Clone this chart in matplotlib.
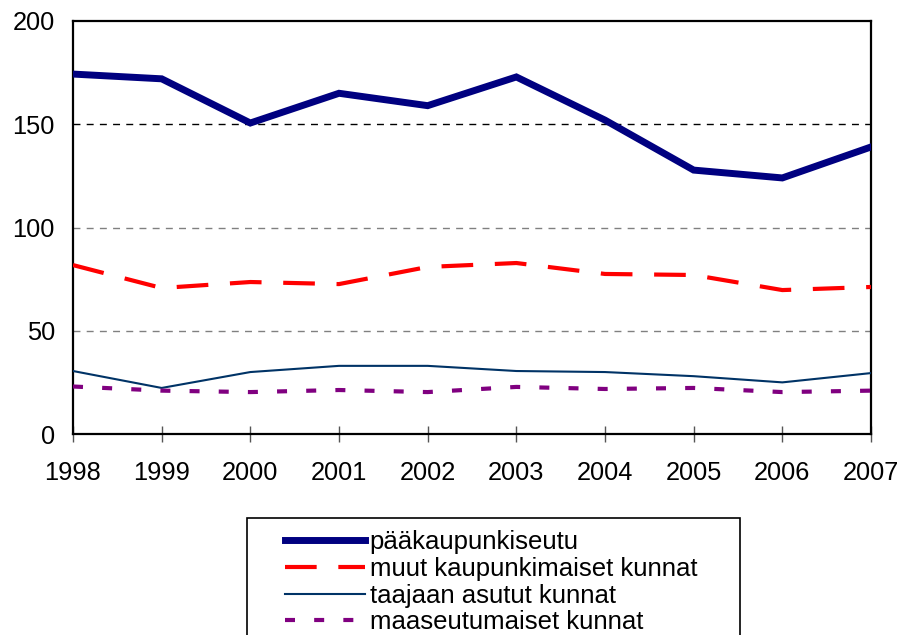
import numpy as np
import matplotlib
matplotlib.use('Agg')
import matplotlib.pyplot as plt
from matplotlib.patches import Rectangle

plt.rcParams['font.family'] = ['Liberation Sans', 'DejaVu Sans']

years = [1998, 1999, 2000, 2001, 2002, 2003, 2004, 2005, 2006, 2007]
paakaupunkiseutu = [174.3, 172.0, 150.6, 165.0, 159.0, 172.9, 152.0, 127.8, 124.0, 139.0]
muut_kaupunkimaiset = [81.8, 70.7, 73.6, 72.6, 80.9, 82.8, 77.5, 77.0, 69.7, 71.2]
taajaan_asutut = [30.5, 22.3, 30.0, 33.0, 33.0, 30.5, 30.0, 28.0, 25.0, 29.5]
maaseutumaiset = [23.0, 21.0, 20.3, 21.3, 20.3, 22.8, 21.8, 22.3, 20.3, 21.0]

labels = ['pääkaupunkiseutu', 'muut kaupunkimaiset kunnat',
          'taajaan asutut kunnat', 'maaseutumaiset kunnat']
y_ticks = [0, 50, 100, 150, 200]

fig = plt.figure(figsize=(9.01, 6.35), dpi=100)
ax = fig.add_axes([73/901, 1 - 434/635, (871 - 73)/901, (434 - 21)/635])

# dashed gridlines
for v in [50, 100, 150]:
    ax.axhline(v, color='black' if v == 150 else '#808080', lw=1.0,
               dashes=(5, 4.5), zorder=1)

ax.plot(years, paakaupunkiseutu, color='#000080', lw=5.0,
        solid_joinstyle='miter', label=labels[0], zorder=3)
ax.plot(years, muut_kaupunkimaiset, color='#ff0000', lw=3.0,
        dashes=(7.6, 5.2), label=labels[1], zorder=3)
ax.plot(years, taajaan_asutut, color='#003366', lw=1.5,
        label=labels[2], zorder=3)
ax.plot(years, maaseutumaiset, color='#800080', lw=3.0,
        dashes=(2.4, 4.6), label=labels[3], zorder=3)

ax.set_xlim(1998, 2007)
ax.set_ylim(0, 200)
ax.set_xticks(years)
ax.set_yticks(y_ticks)
ax.tick_params(axis='y', length=0, pad=13, labelsize=18.3)
ax.tick_params(axis='x', direction='inout', length=11, width=1.0,
               color='#555555', pad=14, labelsize=18.3)
for s in ax.spines.values():
    s.set_linewidth(1.6)
    s.set_color('black')

# legend box (runs off the bottom of the figure)
fig.patches.append(Rectangle((247/901, -0.05), (740 - 247)/901, 0.05 + 1 - 518/635,
                             transform=fig.transFigure, fill=False,
                             edgecolor='black', lw=1.2))
fig.legend(loc='upper left', bbox_to_anchor=(285/901, 1 - 530/635),
           frameon=False, fontsize=18.5, handlelength=3.1, handletextpad=0.2,
           labelspacing=0.11, borderpad=0.0, borderaxespad=0)

fig.savefig('out.png', dpi=100)
